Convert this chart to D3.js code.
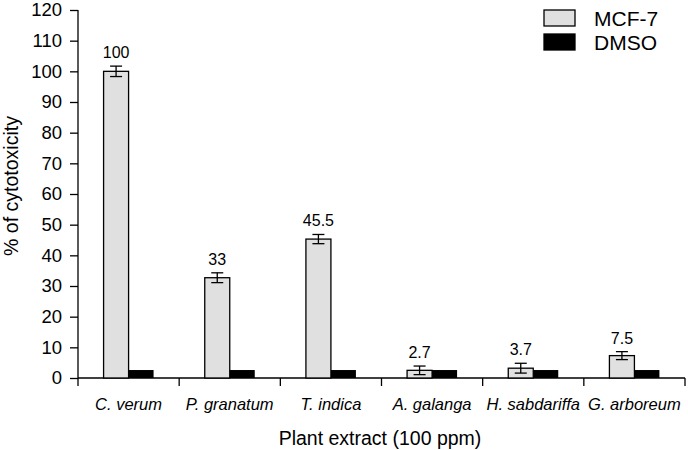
<!DOCTYPE html>
<html>
<head>
<meta charset="utf-8">
<script src="https://cdn.jsdelivr.net/npm/d3@7"></script>
<style>
  body { margin: 0; background: #fff; }
  text { font-family: "Liberation Sans", Arial, sans-serif; fill: #000; }
</style>
</head>
<body>
<svg id="chart" width="688" height="450"></svg>
<script>
// data
var plants = ["C. verum", "P. granatum", "T. indica", "A. galanga", "H. sabdariffa", "G. arboreum"]
var mcf7 = [100, 32.7, 45.3, 2.5, 3.2, 7.3]
var mcf7Err = [1.7, 1.6, 1.5, 1.4, 1.6, 1.3]
var mcf7Labels = ["100", "33", "45.5", "2.7", "3.7", "7.5"]
var dmso = [2.6, 2.6, 2.6, 2.6, 2.6, 2.6]
var series = ["MCF-7", "DMSO"]
var colors = ["#e0e0e0", "#000000"]
var yTicks = [0, 10, 20, 30, 40, 50, 60, 70, 80, 90, 100, 110, 120]

var svg = d3.select("#chart")

var plotL = 78, plotR = 685, plotT = 10, plotB = 378

var y = d3.scaleLinear().domain([0, 120]).range([plotB, plotT])
var x = d3.scaleBand().domain(plants).range([plotL, plotR])
var bw = x.bandwidth()
var x1 = d3.scaleBand().domain(series).range([bw / 2 - 25, bw / 2 + 25])

// y axis
var yAxis = svg.append("g")
  .attr("transform", `translate(${plotL},0)`)
  .call(d3.axisLeft(y).tickValues(yTicks).tickSize(8).tickPadding(8))
yAxis.selectAll("text").attr("font-size", 18.5).attr("font-family", "Liberation Sans, Arial, sans-serif")
yAxis.select(".domain").attr("d", `M0,${plotT}V${plotB}`)
yAxis.selectAll("line, path").attr("stroke", "#000").attr("stroke-width", 1.3)

// x axis: ticks at category boundaries
var xg = svg.append("g")
xg.append("line")
  .attr("x1", plotL).attr("x2", plotR)
  .attr("y1", plotB).attr("y2", plotB)
  .attr("stroke", "#000").attr("stroke-width", 1.3)
var bounds = plants.map(p => x(p)).concat([plotR])
xg.selectAll(".xt")
  .data(bounds)
  .join("line")
  .attr("class", "xt")
  .attr("x1", d => d).attr("x2", d => d)
  .attr("y1", plotB).attr("y2", plotB + 8)
  .attr("stroke", "#000").attr("stroke-width", 1.3)
xg.selectAll(".xl")
  .data(plants)
  .join("text")
  .attr("class", "xl")
  .attr("x", d => x(d) + bw / 2)
  .attr("y", 410)
  .attr("text-anchor", "middle")
  .attr("font-size", 16.5)
  .attr("font-style", "italic")
  .text(d => d)

// bars
var rows = plants.map((p, i) => ({ p: p, i: i }))
svg.selectAll(".mcf")
  .data(rows)
  .join("rect")
  .attr("class", "mcf")
  .attr("x", d => x(d.p) + x1("MCF-7"))
  .attr("width", x1.bandwidth())
  .attr("y", d => y(mcf7[d.i]))
  .attr("height", d => plotB - y(mcf7[d.i]))
  .attr("fill", colors[0])
  .attr("stroke", "#000")
  .attr("stroke-width", 1.3)

svg.selectAll(".dmso")
  .data(rows)
  .join("rect")
  .attr("class", "dmso")
  .attr("x", d => x(d.p) + x1("DMSO"))
  .attr("width", x1.bandwidth())
  .attr("y", d => y(dmso[d.i]))
  .attr("height", d => plotB - y(dmso[d.i]))
  .attr("fill", colors[1])

// error bars
var eg = svg.selectAll(".err")
  .data(rows)
  .join("g")
  .attr("class", "err")
  .attr("transform", d => `translate(${x(d.p) + x1("MCF-7") + x1.bandwidth() / 2},0)`)
eg.append("line")
  .attr("y1", d => y(mcf7[d.i] + mcf7Err[d.i]))
  .attr("y2", d => y(mcf7[d.i] - mcf7Err[d.i]))
eg.append("line")
  .attr("x1", -6).attr("x2", 6)
  .attr("y1", d => y(mcf7[d.i] + mcf7Err[d.i]))
  .attr("y2", d => y(mcf7[d.i] + mcf7Err[d.i]))
eg.append("line")
  .attr("x1", -6).attr("x2", 6)
  .attr("y1", d => y(mcf7[d.i] - mcf7Err[d.i]))
  .attr("y2", d => y(mcf7[d.i] - mcf7Err[d.i]))
eg.selectAll("line").attr("stroke", "#000").attr("stroke-width", 1.3)
eg.append("text")
  .attr("y", d => y(mcf7[d.i] + mcf7Err[d.i]) - 8)
  .attr("text-anchor", "middle")
  .attr("font-size", 16)
  .text(d => mcf7Labels[d.i])

// axis titles
svg.append("text")
  .attr("x", 380).attr("y", 445)
  .attr("text-anchor", "middle")
  .attr("font-size", 19.5)
  .text("Plant extract (100 ppm)")

svg.append("text")
  .attr("transform", "translate(18,186) rotate(-90)")
  .attr("text-anchor", "middle")
  .attr("font-size", 19.5)
  .text("% of cytotoxicity")

// legend
var lg = svg.selectAll(".leg")
  .data(series)
  .join("g")
  .attr("class", "leg")
  .attr("transform", (d, i) => `translate(544,${10 + i * 24})`)
lg.append("rect")
  .attr("width", 31).attr("height", 16)
  .attr("fill", (d, i) => colors[i])
  .attr("stroke", "#000").attr("stroke-width", 1.3)
lg.append("text")
  .attr("x", 50).attr("y", 16)
  .attr("font-size", 21)
  .text(d => d)
</script>
</body>
</html>
